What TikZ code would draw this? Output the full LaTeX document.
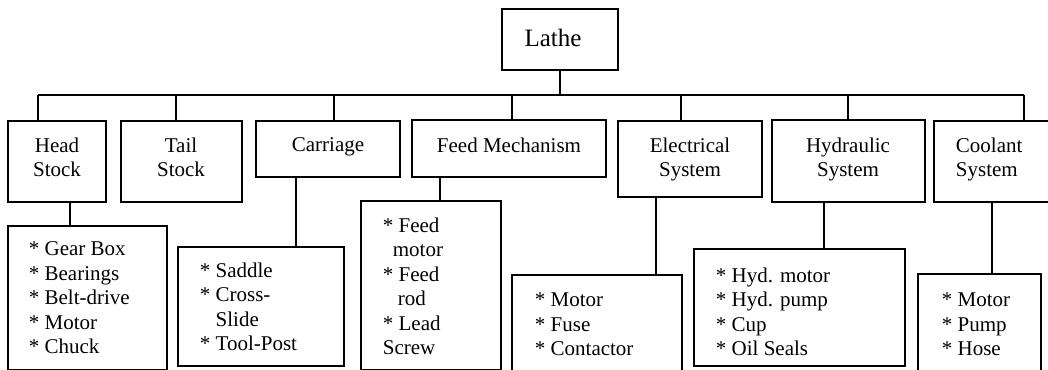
\documentclass[tikz,border=0pt]{standalone}
\usepackage{fontspec}
\setmainfont{Liberation Serif}
\usetikzlibrary{positioning}

\begin{document}
\begin{tikzpicture}[
  x=1pt, y=-1pt, line width=1.8pt,
  frame/.style={draw, anchor=north west, inner sep=0pt, outer sep=0pt},
  grouptext/.style={anchor=north, align=center, inner sep=0pt, font=\fontsize{21}{24.5}\selectfont},
  listtext/.style={anchor=north west, align=left, inner sep=0pt, font=\fontsize{21}{24.5}\selectfont}
]
  \useasboundingbox (0,0) rectangle (1048,369);
  \clip (0,0) rectangle (1048,369);

  % root
  \node[frame, minimum width=116, minimum height=61] (lathe) at (502,9) {};
  \node[grouptext, font=\fontsize{25}{30}\selectfont] (lathe-txt) at (553,28) {Lathe};

  % groups
  \node[frame, minimum width=98, minimum height=81] (headstock) at (8,121) {};
  \node[frame, minimum width=121, minimum height=81] (tailstock) at (121,121) {};
  \node[frame, minimum width=144, minimum height=56] (carriage) at (256,121) {};
  \node[frame, minimum width=194, minimum height=57] (feedmech) at (412,120) {};
  \node[frame, minimum width=144, minimum height=76] (electrical) at (618,121) {};
  \node[frame, minimum width=153, minimum height=82] (hydraulic) at (772,120) {};
  \node[frame, minimum width=120, minimum height=81] (coolant) at (934,121) {};

  \node[grouptext] (headstock-txt) at (57,137) {Head\\Stock};
  \node[grouptext] (tailstock-txt) at (181,137) {Tail\\Stock};
  \node[grouptext] (carriage-txt) at (328,137) {Carriage};
  \node[grouptext] (feedmech-txt) at (509,137) {Feed Mechanism};
  \node[grouptext] (electrical-txt) at (690,137) {Electrical\\System};
  \node[grouptext] (hydraulic-txt) at (848,137) {Hydraulic\\System};
  \node[listtext] (coolant-txt) at (955,137) {Coolant\\System};

  % parts
  \node[frame, minimum width=159, minimum height=144] (headstock-parts) at (8,226) {};
  \node[frame, minimum width=166, minimum height=119] (carriage-parts) at (178,247) {};
  \node[frame, minimum width=140, minimum height=169] (feedmech-parts) at (361,201) {};
  \node[frame, minimum width=170, minimum height=100] (electrical-parts) at (512,275) {};
  \node[frame, minimum width=211, minimum height=117] (hydraulic-parts) at (694,249) {};
  \node[frame, minimum width=123, minimum height=100] (coolant-parts) at (918,274) {};

  \node[listtext] (headstock-list) at (28,241) {* Gear Box\\* Bearings\\* Belt-drive\\* Motor\\* Chuck};
  \node[listtext] (carriage-list) at (199,262) {* Saddle\\* Cross-\\\phantom{* }Slide\\* Tool-Post};
  \node[listtext] (feedmech-list) at (382,217) {* Feed\\\hspace*{10pt}motor\\* Feed\\\hspace*{15pt}rod\\* Lead\\Screw};
  \node[listtext] (electrical-list) at (534,292) {* Motor\\* Fuse\\* Contactor};
  \node[listtext] (hydraulic-list) at (715,267) {* Hyd. motor\\* Hyd. pump\\* Cup\\* Oil Seals};
  \node[listtext] (coolant-list) at (941,292) {* Motor\\* Pump\\* Hose};

  % bus
  \coordinate (headstock-j) at (38,95);
  \coordinate (tailstock-j) at (176,95);
  \coordinate (carriage-j) at (334,95);
  \coordinate (feedmech-j) at (512,95);
  \coordinate (electrical-j) at (681,95);
  \coordinate (hydraulic-j) at (848,95);
  \coordinate (coolant-j) at (1024,95);

  \draw (lathe.south) -- (lathe.south |- headstock-j);
  \draw (headstock-j) -- (coolant-j);
  \draw (headstock-j) -- (headstock-j |- headstock.north);
  \draw (tailstock-j) -- (tailstock-j |- tailstock.north);
  \draw (carriage-j) -- (carriage-j |- carriage.north);
  \draw (feedmech-j) -- (feedmech-j |- feedmech.north);
  \draw (electrical-j) -- (electrical-j |- electrical.north);
  \draw (hydraulic-j) -- (hydraulic-j |- hydraulic.north);
  \draw (coolant-j) -- (coolant-j |- coolant.north);

  % group to parts
  \coordinate (headstock-k) at (70,0);
  \coordinate (carriage-k) at (296,0);
  \coordinate (feedmech-k) at (440,0);
  \coordinate (electrical-k) at (656,0);
  \coordinate (hydraulic-k) at (824,0);
  \coordinate (coolant-k) at (992,0);

  \draw (headstock-k |- headstock.south) -- (headstock-k |- headstock-parts.north);
  \draw (carriage-k |- carriage.south) -- (carriage-k |- carriage-parts.north);
  \draw (feedmech-k |- feedmech.south) -- (feedmech-k |- feedmech-parts.north);
  \draw (electrical-k |- electrical.south) -- (electrical-k |- electrical-parts.north);
  \draw (hydraulic-k |- hydraulic.south) -- (hydraulic-k |- hydraulic-parts.north);
  \draw (coolant-k |- coolant.south) -- (coolant-k |- coolant-parts.north);
\end{tikzpicture}
\end{document}
